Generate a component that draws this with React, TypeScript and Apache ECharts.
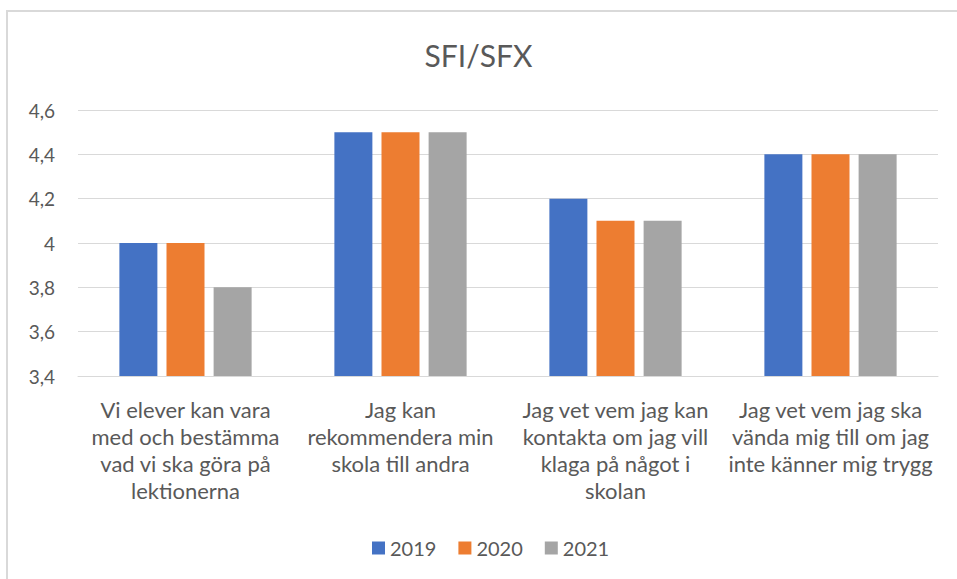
import React, { useEffect, useRef } from "react";
import * as echarts from "echarts";

const categories = [
  "Vi elever kan vara\nmed och bestämma\nvad vi ska göra på\nlektionerna",
  "Jag kan\nrekommendera min\nskola till andra",
  "Jag vet vem jag kan\nkontakta om jag vill\nklaga på något i\nskolan",
  "Jag vet vem jag ska\nvända mig till om jag\ninte känner mig trygg",
];
const seriesNames = ["2019", "2020", "2021"];
const values2019 = [4.0, 4.5, 4.2, 4.4];
const values2020 = [4.0, 4.5, 4.1, 4.4];
const values2021 = [3.8, 4.5, 4.1, 4.4];
const colors = ["#4472C4", "#ED7D31", "#A5A5A5"];
const yMin = 3.4;
const yMax = 4.6;
const yStep = 0.2;

export default function App() {
  const ref = useRef<HTMLDivElement>(null);
  useEffect(() => {
    if (!ref.current) return;
    const chart = echarts.init(ref.current, null, { renderer: "svg" });
    const font = "Lato, 'Open Sans', sans-serif";
    const allValues = [values2019, values2020, values2021];
    chart.setOption({
      animation: false,
      backgroundColor: "#ffffff",
      textStyle: { fontFamily: font },
      title: {
        text: "SFI/SFX",
        left: "center",
        top: 35,
        textStyle: { fontFamily: font, fontSize: 30, fontWeight: "normal", color: "#595959" },
      },
      graphic: [
        {
          type: "rect",
          shape: { x: 7, y: 11, width: 1000, height: 1000 },
          style: { fill: "none", stroke: "#d9d9d9", lineWidth: 2 },
          silent: true,
        },
      ],
      legend: {
        top: 533,
        left: 367,
        itemWidth: 13,
        itemHeight: 13,
        itemGap: 22,
        icon: "rect",
        textStyle: { fontFamily: font, fontSize: 20, color: "#595959" },
        data: seriesNames,
      },
      grid: { left: 78, right: 19, top: 110, bottom: 203, containLabel: false },
      xAxis: {
        type: "category",
        data: categories,
        axisLine: { show: true, lineStyle: { color: "#d9d9d9", width: 1 } },
        axisTick: { show: false },
        axisLabel: {
          interval: 0,
          margin: 20,
          fontFamily: font,
          fontSize: 22,
          lineHeight: 27,
          color: "#595959",
        },
      },
      yAxis: {
        type: "value",
        min: yMin,
        max: yMax,
        interval: yStep,
        axisLine: { show: false },
        axisTick: { show: false },
        splitLine: { lineStyle: { color: "#d9d9d9", width: 1 } },
        axisLabel: {
          margin: 23,
          fontFamily: font,
          fontSize: 19,
          color: "#595959",
          formatter: (v: number) => {
            const r = Math.round(v * 10) / 10;
            return String(r).replace(".", ",");
          },
        },
      },
      series: seriesNames.map((name, i) => ({
        name,
        type: "bar",
        data: allValues[i],
        barWidth: 38,
        barGap: "24%",
        itemStyle: { color: colors[i] },
      })),
    });
    return () => chart.dispose();
  }, []);
  return (
    <div
      ref={ref}
      style={{ position: "fixed", left: 0, top: 0, width: 957, height: 579 }}
    />
  );
}
